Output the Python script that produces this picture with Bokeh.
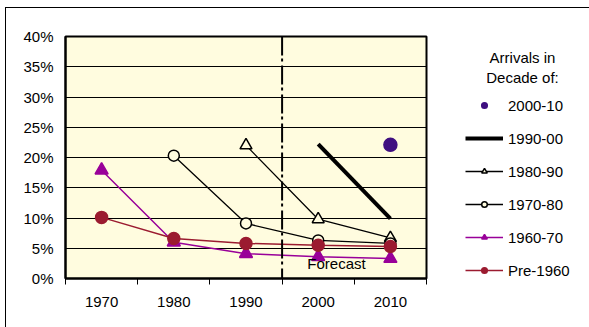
from bokeh.plotting import figure
from bokeh.layouts import row
from bokeh.models import (FixedTicker, PrintfTickFormatter, Span, Label, Legend, LegendItem, Range1d)
from bokeh.embed import file_html
from bokeh.resources import INLINE

decades = ["1970", "1980", "1990", "2000", "2010"]
y_ticks = [0, 5, 10, 15, 20, 25, 30, 35, 40]

series = [
    ("2000-10", ["2010"], [22.1]),
    ("1990-00", ["2000", "2010"], [22.2, 9.9]),
    ("1980-90", ["1990", "2000", "2010"], [22.0, 9.8, 6.7]),
    ("1970-80", ["1980", "1990", "2000", "2010"], [20.3, 9.1, 6.3, 5.8]),
    ("1960-70", ["1970", "1980", "1990", "2000", "2010"], [17.9, 6.0, 4.1, 3.6, 3.3]),
    ("Pre-1960", ["1970", "1980", "1990", "2000", "2010"], [10.1, 6.6, 5.8, 5.5, 5.3]),
]
forecast_boundary = "2000"
forecast_label = "Forecast"
legend_title = ["Arrivals in", "Decade of:"]

FONT = "Liberation Sans"
FS = "15px"
BLACK = "#000000"
MAGENTA = "#990099"
DARKRED = "#9B1B30"
PURPLE = "#3F0F80"
BG = "#FFFCDF"

# style per series: (line color, line width, marker, marker size, marker line, marker fill)
styles = {
    "2000-10": (None, 0, "circle", 13, PURPLE, PURPLE),
    "1990-00": (BLACK, 4, None, 0, None, None),
    "1980-90": (BLACK, 1.3, "triangle", 12, BLACK, BG),
    "1970-80": (BLACK, 1.3, "circle", 11, BLACK, BG),
    "1960-70": (MAGENTA, 1.5, "triangle", 13, MAGENTA, MAGENTA),
    "Pre-1960": (DARKRED, 1.5, "circle", 12, DARKRED, DARKRED),
}
draw_order = ["1990-00", "1980-90", "1970-80", "1960-70", "Pre-1960", "2000-10"]

def xpos(d):
    return decades.index(d) + 0.5

W, H = 589, 327
PW = 428
TOP, BOTTOM = 36, 49
p = figure(width=PW, height=H, output_backend="svg", toolbar_location=None,
           x_range=Range1d(0, len(decades)), y_range=Range1d(0, 40),
           min_border_left=65, min_border_right=2, min_border_top=TOP, min_border_bottom=BOTTOM)
p.background_fill_color = BG
p.border_fill_color = None
p.outline_line_color = BLACK
p.outline_line_width = 2

p.yaxis.ticker = FixedTicker(ticks=y_ticks)
p.yaxis.formatter = PrintfTickFormatter(format="%d%%")
p.yaxis.major_tick_out = 0
p.yaxis.major_tick_in = 0
p.yaxis.minor_tick_out = 0
p.yaxis.minor_tick_in = 0
p.yaxis.axis_line_width = 2
p.yaxis.major_label_standoff = 12
p.yaxis.major_label_text_font = FONT
p.yaxis.major_label_text_font_size = FS
p.yaxis.major_label_text_color = BLACK

centers = [i + 0.5 for i in range(len(decades))]
bounds = list(range(len(decades) + 1))
p.xaxis.ticker = FixedTicker(ticks=centers, minor_ticks=bounds)
p.xaxis.major_label_overrides = {c: d for c, d in zip(centers, decades)}
p.xaxis.major_tick_out = 0
p.xaxis.major_tick_in = 0
p.xaxis.minor_tick_out = 6
p.xaxis.minor_tick_in = 0
p.xaxis.minor_tick_line_color = BLACK
p.xaxis.axis_line_width = 2
p.xaxis.major_label_standoff = 12
p.xaxis.major_label_text_font = FONT
p.xaxis.major_label_text_font_size = FS
p.xaxis.major_label_text_color = BLACK

p.xgrid.grid_line_color = None
p.ygrid.ticker = FixedTicker(ticks=y_ticks)
p.ygrid.grid_line_color = BLACK
p.ygrid.grid_line_width = 1

p.add_layout(Span(location=decades.index(forecast_boundary), dimension="height",
                  line_color=BLACK, line_width=2, line_dash="19 3 3 4"))

data = {s[0]: ([xpos(d) for d in s[1]], s[2]) for s in series}

for name in draw_order:
    lc, lw, mk, ms, mlc, mfc = styles[name]
    x, y = data[name]
    if lc is not None:
        p.line(x, y, line_color=lc, line_width=lw)
    if mk is not None:
        p.scatter(x, y, marker=mk, size=ms, line_color=mlc, line_width=1.5, fill_color=mfc)

p.add_layout(Label(x=xpos("2000") - 0.15, y=2.5, text=forecast_label,
                   text_font=FONT, text_font_size=FS, text_color=BLACK,
                   text_baseline="middle"))

# legend panel; its frame is aligned with the main frame, data units = pixels from bottom
QW = W - PW
q = figure(width=QW, height=H, output_backend="svg", toolbar_location=None,
           x_range=Range1d(0, QW), y_range=Range1d(BOTTOM, H - TOP),
           x_axis_type=None, y_axis_type=None, min_border=0)
q.extra_y_ranges = {"hidden": Range1d(1000, 1001)}
q.grid.visible = False
q.outline_line_color = None
q.background_fill_color = None
q.border_fill_color = None

items = []
for s in series:
    name = s[0]
    lc, lw, mk, ms, mlc, mfc = styles[name]
    x, y = data[name]
    rs = []
    if lc is not None:
        rs.append(q.line(x, y, line_color=lc, line_width=lw, y_range_name="hidden"))
    if mk is not None:
        rs.append(q.scatter(x, y, marker=mk, size=ms - 1, line_color=mlc, line_width=1.5,
                            fill_color=mfc, y_range_name="hidden"))
    items.append(LegendItem(label=name, renderers=rs))

legend = Legend(items=items, location=(37, -0.5), glyph_width=38, glyph_height=14, spacing=16,
                label_standoff=5, padding=0, margin=0, border_line_alpha=0,
                background_fill_alpha=0, label_text_font=FONT, label_text_font_size=FS,
                label_text_color=BLACK, label_height=14)
q.add_layout(legend, "center")

for i, t in enumerate(legend_title):
    q.add_layout(Label(x=94, y=H - 57 - i * 20, text=t, text_font=FONT, text_font_size=FS,
                       text_align="center", text_baseline="middle", text_color=BLACK))

layout = row(p, q, spacing=0)
layout.styles = {
    "background": "linear-gradient(#000,#000) 5px 7px / 1px 100% no-repeat, "
                  "linear-gradient(#000,#000) 5px 7px / 100% 1px no-repeat, #fff"
}
open("out.html", "w").write(file_html(layout, INLINE))
